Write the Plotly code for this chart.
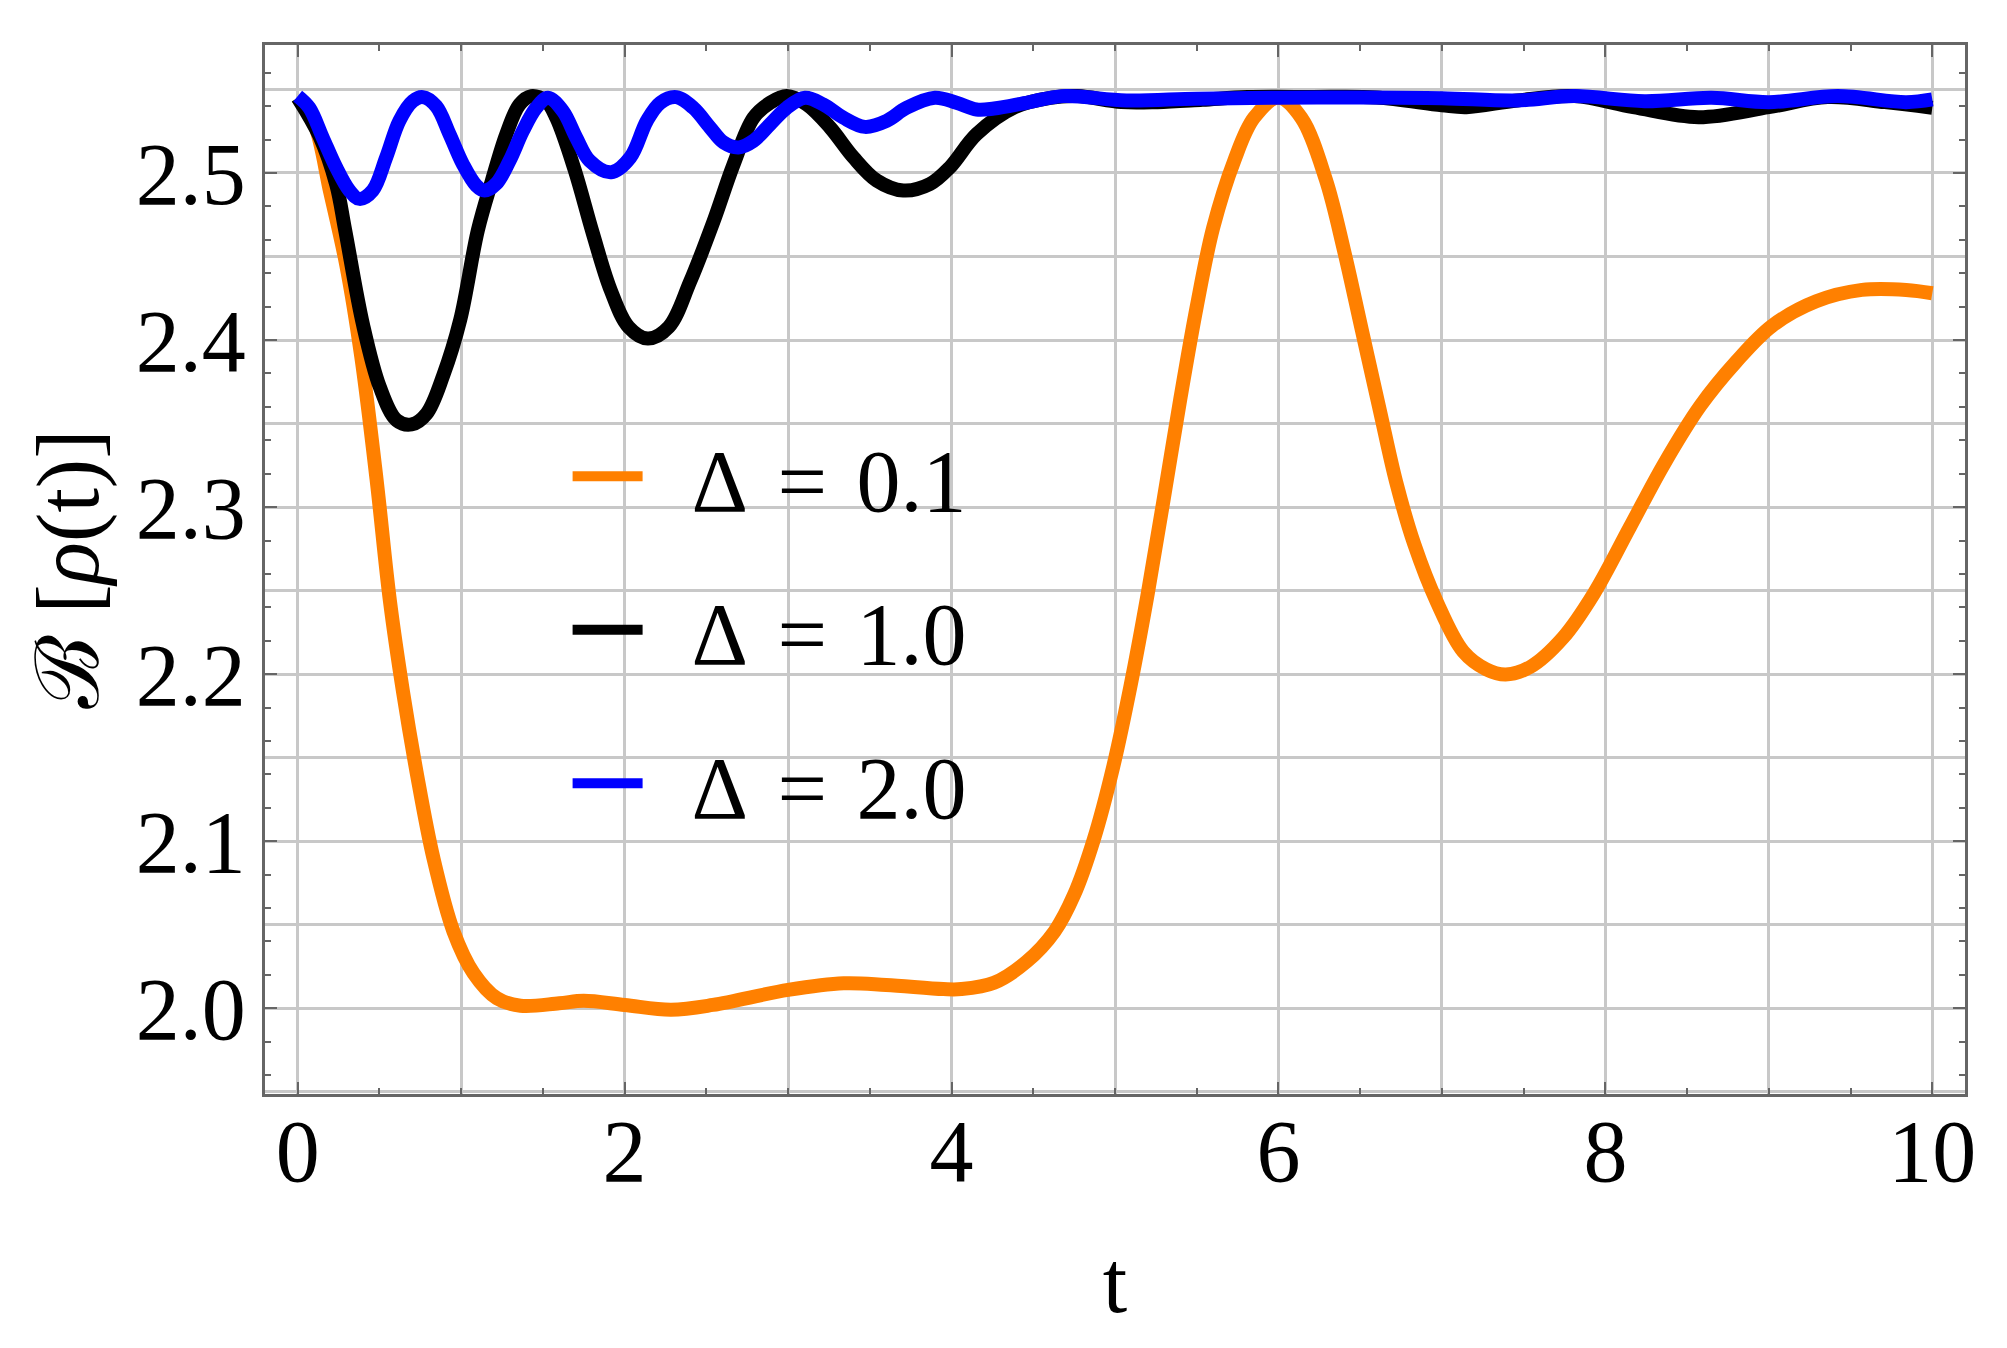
import plotly.graph_objects as go

# B[rho(t)], one curve per detuning
t_d01 = [0, 0.1, 0.2, 0.297, 0.389, 0.482, 0.564, 0.645, 0.727, 0.83, 0.953, 1.076, 1.219, 1.363,
         1.6, 1.75, 2.0, 2.284, 2.54, 3.0, 3.34, 3.6, 3.95, 4.06, 4.26, 4.46, 4.63, 4.75, 4.87, 4.99,
         5.095, 5.2, 5.3, 5.4, 5.5, 5.6, 5.73, 5.85, 6.0, 6.14, 6.29, 6.4, 6.51, 6.62, 6.72, 6.83,
         6.97, 7.13, 7.27, 7.39, 7.54, 7.74, 7.93, 8.15, 8.36, 8.58, 8.8, 9.02, 9.29, 9.57, 9.84, 10.0]
b_d01 = [2.545, 2.530, 2.488, 2.445, 2.390, 2.317, 2.244, 2.189, 2.1415, 2.090, 2.046, 2.021, 2.006, 2.0015,
         2.003, 2.0045, 2.002, 1.9992, 2.002, 2.011, 2.015, 2.014, 2.0115, 2.0115, 2.0153, 2.028, 2.046, 2.068, 2.101, 2.145,
         2.193, 2.248, 2.306, 2.365, 2.42, 2.467, 2.5075, 2.533, 2.545, 2.533, 2.496, 2.454, 2.406, 2.358, 2.315, 2.278,
         2.243, 2.2136, 2.203, 2.1998, 2.2043, 2.2217, 2.2483, 2.288, 2.326, 2.3605, 2.387, 2.4085, 2.4232, 2.430, 2.430, 2.428]

t_d10 = [0, 0.133, 0.236, 0.29, 0.4, 0.502, 0.605, 0.697, 0.789, 0.891, 0.994, 1.102, 1.188, 1.276,
         1.357, 1.429, 1.52, 1.582, 1.694, 1.806, 1.915, 2.024, 2.142, 2.27, 2.401, 2.544, 2.666, 2.788,
         2.89, 2.992, 3.114, 3.257, 3.4, 3.542, 3.705, 3.868, 3.99, 4.153, 4.387, 4.605, 4.77, 5.04,
         5.26, 5.535, 5.81, 6.2, 6.6, 7.0, 7.15, 7.46, 7.81, 8.17, 8.57, 9.0, 9.36, 9.71, 10.0]
b_d10 = [2.545, 2.522, 2.493, 2.466, 2.409, 2.372, 2.352, 2.3495, 2.356, 2.379, 2.412, 2.4657, 2.4954, 2.5232,
         2.541, 2.546, 2.543, 2.533, 2.502, 2.4637, 2.4298, 2.4078, 2.4009, 2.4078, 2.435, 2.471, 2.505, 2.533,
         2.542, 2.546, 2.541, 2.5272, 2.5093, 2.4955, 2.4895, 2.4934, 2.5034, 2.5232, 2.5394, 2.545, 2.546, 2.5424,
         2.5424, 2.5438, 2.5454, 2.5455, 2.5452, 2.5405, 2.5394, 2.5434, 2.546, 2.5394, 2.5334, 2.5394, 2.5454, 2.5424, 2.539]

t_d20 = [0, 0.071, 0.153, 0.235, 0.316, 0.378, 0.459, 0.541, 0.622, 0.704, 0.765, 0.847, 0.929, 1.01,
         1.092, 1.143, 1.214, 1.296, 1.378, 1.459, 1.531, 1.622, 1.704, 1.786, 1.918, 2.035, 2.136, 2.218,
         2.316, 2.42, 2.523, 2.605, 2.697, 2.788, 2.89, 2.992, 3.104, 3.216, 3.338, 3.47, 3.603, 3.725,
         3.898, 4.03, 4.153, 4.26, 4.47, 4.68, 5.07, 5.5, 6.0, 6.5, 7.0, 7.46, 7.81, 8.24, 8.65, 9.0,
         9.42, 9.84, 10.0]
b_d20 = [2.546, 2.539, 2.5212, 2.5034, 2.4895, 2.4845, 2.4895, 2.5093, 2.5312, 2.543, 2.5454, 2.54, 2.5232, 2.5054,
         2.4925, 2.4895, 2.4935, 2.5073, 2.5252, 2.539, 2.545, 2.5371, 2.5212, 2.5073, 2.5004, 2.5093, 2.5312, 2.542,
         2.5454, 2.539, 2.5272, 2.5183, 2.5153, 2.5192, 2.5292, 2.539, 2.545, 2.541, 2.5331, 2.5276, 2.5312, 2.539,
         2.545, 2.542, 2.538, 2.5386, 2.5423, 2.546, 2.5434, 2.5445, 2.545, 2.5452, 2.5448, 2.5434, 2.546, 2.543, 2.545, 2.5424,
         2.546, 2.5424, 2.544]

series = [
    ("Δ\u2004=\u20040.1", t_d01, b_d01, "#FF8000"),
    ("Δ\u2004=\u20041.0", t_d10, b_d10, "#000000"),
    ("Δ\u2004=\u20042.0", t_d20, b_d20, "#0000FF"),
]

x_range = [-0.2, 10.2]
y_range = [1.9487, 2.5766]

serif = "Liberation Serif, Times New Roman, serif"
frame = "#666666"
grid = "#c8c8c8"

fig = go.Figure()
for i, (name, t, b, col) in enumerate(series):
    fig.add_trace(go.Scatter(
        x=t, y=b, mode="lines", name="\u2002" + name,
        line=dict(color=col, width=14, shape="spline", smoothing=1.0),
        legendgroup=str(i),
    ))

# empty trace so the grid-only overlay axes get drawn
fig.add_trace(go.Scatter(x=[], y=[], xaxis="x2", yaxis="y2", showlegend=False, hoverinfo="skip"))

# the page body keeps its default 8px margin, so the figure is 8px smaller
fig.update_layout(
    width=1999, height=1340,
    plot_bgcolor="white", paper_bgcolor="white",
    margin=dict(l=257, r=42, t=37, b=254),
    font=dict(family=serif, size=88, color="black"),
    showlegend=True,
    legend=dict(
        x=0.178, y=0.6495, xanchor="left", yanchor="top",
        bgcolor="rgba(0,0,0,0)", borderwidth=0,
        font=dict(family=serif, size=88, color="black"),
        tracegroupgap=36, itemwidth=70,
    ),
    xaxis=dict(
        range=x_range, tick0=0, dtick=2,
        ticks="inside", ticklen=12, tickwidth=2, tickcolor=frame,
        minor=dict(dtick=0.5, ticks="inside", ticklen=6, tickwidth=2, tickcolor=frame, showgrid=False),
        showgrid=False, zeroline=False,
        showline=True, linecolor=frame, linewidth=2.5, mirror="allticks",
        ticklabelstandoff=-21,
        title=dict(text="t", standoff=52, font=dict(family=serif, size=88)),
    ),
    yaxis=dict(
        range=y_range, tick0=2.0, dtick=0.1, tickformat=".1f",
        ticks="inside", ticklen=12, tickwidth=2, tickcolor=frame,
        minor=dict(dtick=0.02, ticks="inside", ticklen=6, tickwidth=2, tickcolor=frame, showgrid=False),
        showgrid=False, zeroline=False,
        showline=True, linecolor=frame, linewidth=2.5, mirror="allticks",
        ticklabelstandoff=-1,
        title=dict(text="ℬ [<i>ρ</i>(t)]", standoff=8, font=dict(family=serif, size=88)),
    ),
    xaxis2=dict(
        range=x_range, overlaying="x", anchor="y2", tick0=0, dtick=1,
        showgrid=True, gridcolor=grid, gridwidth=2.7,
        showticklabels=False, ticks="", zeroline=False, showline=False,
    ),
    yaxis2=dict(
        range=y_range, overlaying="y", anchor="x2", tick0=1.95, dtick=0.05,
        showgrid=True, gridcolor=grid, gridwidth=2.7,
        showticklabels=False, ticks="", zeroline=False, showline=False,
    ),
)

fig.write_html("out.html")
